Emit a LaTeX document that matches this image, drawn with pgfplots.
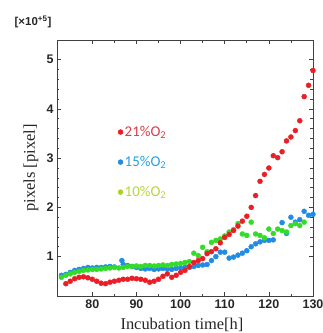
\documentclass[border=0pt]{standalone}
\usepackage{pgfplots}
\pgfplotsset{compat=1.18}
\usepackage{fontspec}
\setmainfont{Liberation Serif}
\newfontfamily\tickfont{Liberation Sans}
\newfontfamily\legfont{Carlito}
\definecolor{cred}{RGB}{234,30,38}
\definecolor{cblue}{RGB}{34,140,228}
\definecolor{cgreen}{RGB}{50,220,40}
\definecolor{lred}{RGB}{214,62,72}
\definecolor{lblue}{RGB}{40,160,222}
\definecolor{lgreen}{RGB}{182,214,62}
\definecolor{lgdot}{RGB}{168,212,30}
\begin{document}
\begin{tikzpicture}
\begin{axis}[
 at={(0,0)}, anchor=south west,
 scale only axis, width=256bp, height=256bp,
 xmin=72, xmax=130, ymin=0.2, ymax=5.4,
 xtick={80,90,...,130}, minor x tick num=1,
 ytick={1,2,3,4,5}, minor y tick num=4,
 tick align=inside,
 major tick length=4bp, minor tick length=2.5bp,
 axis line style={draw=black!75, line width=0.8bp},
 every tick/.style={black!75, line width=0.6bp},
 /pgf/number format/assume math mode=true,
 ticklabel style={font=\tickfont\bfseries\fontsize{12.5}{14}\selectfont, text=black!85},
 xlabel={Incubation time[h]}, ylabel={pixels [pixel]},
 label style={font=\fontsize{16.5}{18}\selectfont, text=black!85},
 xlabel style={at={(axis description cs:0.488,0)}, anchor=center, yshift=-29bp},
 ylabel style={at={(axis description cs:0,0.5)}, anchor=center, yshift=26bp},
 clip=false,
]
\addplot[only marks, mark=*, mark size=2.5bp, color=cblue] table {
73 0.62
74 0.64
75 0.68
76 0.72
77 0.74
78 0.76
79 0.78
80 0.77
81 0.78
82 0.78
83 0.79
84 0.80
85 0.79
86.7 0.92
87 0.84
88 0.82
89 0.80
90 0.78
91 0.76
92 0.75
93 0.76
94 0.74
95 0.75
96 0.76
97 0.75
98 0.74
99 0.76
100 0.77
101 0.78
102 0.78
103 0.80
104 0.82
105 0.83
106 0.84
107 0.92
108 1.00
109 1.09
110 1.09
111 0.97
112 0.99
113 1.03
114 1.07
115 1.12
116 1.20
117 1.26
118 1.30
119 1.33
120 1.33
121 1.34
123 1.69
124 1.47
125 1.80
126 1.70
127 1.75
128 1.92
129 1.84
130 1.86
};
\addplot[only marks, mark=*, mark size=2.5bp, color=cgreen] table {
73 0.58
74 0.62
75 0.65
76 0.68
77 0.70
78 0.72
79 0.73
80 0.74
81 0.74
82 0.75
83 0.76
84 0.77
85 0.78
86 0.77
87 0.78
88 0.80
89 0.80
90 0.81
91 0.80
92 0.82
93 0.82
94 0.81
95 0.82
96 0.83
97 0.82
98 0.84
99 0.85
100 0.86
101 0.88
102 0.90
103 1.07
104 1.02
105 1.19
106 1.10
107 1.29
108 1.33
109 1.36
110 1.42
111 1.50
112 1.55
113 1.67
114 1.46
115 1.43
116 1.70
117 1.46
118 1.43
119 1.38
120 1.56
121 1.47
122 1.56
123 1.53
124 1.50
125 1.63
126 1.67
127 1.63
128 1.70
};
\addplot[only marks, mark=*, mark size=2.5bp, color=cred] table {
74 0.45
75 0.50
76 0.55
77 0.58
78 0.59
79 0.57
80 0.54
81 0.50
82 0.46
83 0.45
84 0.48
85 0.50
86 0.52
87 0.54
88 0.54
89 0.56
90 0.55
91 0.54
92 0.52
93 0.48
94 0.50
95 0.54
96 0.60
97 0.65
98 0.58
99 0.62
100 0.68
101 0.72
102 0.80
103 0.88
104 0.92
105 0.96
106 1.06
107 1.10
108 1.16
109 1.28
110 1.39
111 1.45
112 1.53
113 1.62
114 1.72
115 1.82
116 2.00
117 2.24
118 2.53
119 2.67
120 2.80
121 3.05
122 3.01
123 3.13
124 3.35
125 3.43
126 3.56
127 3.76
128 4.25
129 4.48
130 4.78
};
% legend dots
\addplot[only marks, mark=*, mark size=2.5bp, color=cred] coordinates {(86.4,3.53)};
\addplot[only marks, mark=*, mark size=2.5bp, color=cblue] coordinates {(86.4,2.92)};
\addplot[only marks, mark=*, mark size=2.5bp, color=lgdot] coordinates {(86.4,2.31)};
\node[anchor=west, inner sep=0pt, text=lred, font=\legfont\fontsize{15}{16}\selectfont] at (axis cs:87.3,3.53) {21\%O\textsubscript{2}};
\node[anchor=west, inner sep=0pt, text=lblue, font=\legfont\fontsize{15}{16}\selectfont] at (axis cs:87.3,2.92) {15\%O\textsubscript{2}};
\node[anchor=west, inner sep=0pt, text=lgreen, font=\legfont\fontsize{15}{16}\selectfont] at (axis cs:87.3,2.31) {10\%O\textsubscript{2}};
\node[font=\tickfont\bfseries\fontsize{11.5}{13}\selectfont, text=black!85] at (rel axis cs:0,1) [xshift=-24bp, yshift=18bp] {[×10\textsuperscript{+5}]};
\end{axis}
\pgfresetboundingbox
\path[use as bounding box] (-57bp,-37bp) rectangle (266bp,296bp);
\end{tikzpicture}
\end{document}
